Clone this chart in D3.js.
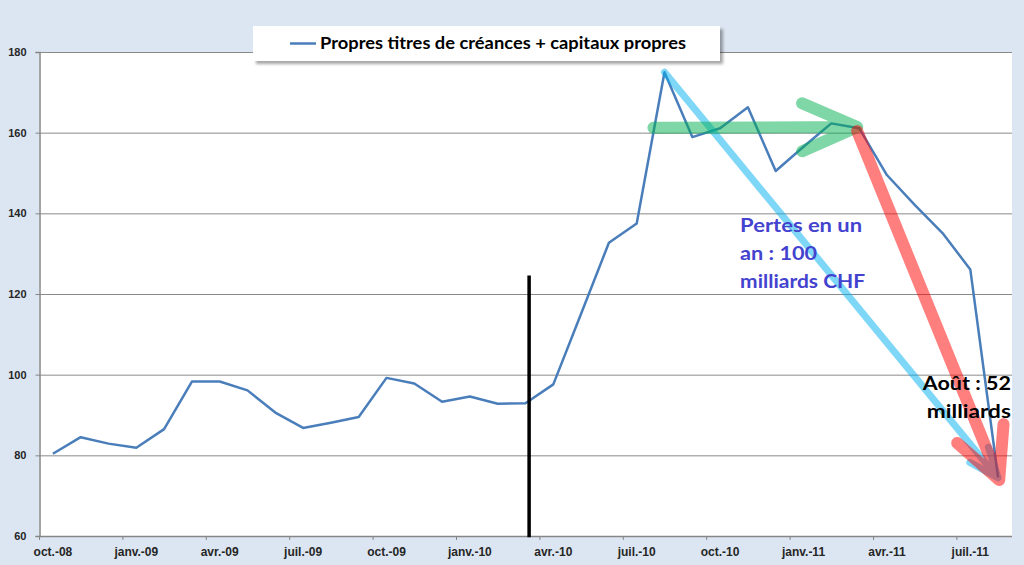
<!DOCTYPE html>
<html>
<head>
<meta charset="utf-8">
<script src="https://cdn.jsdelivr.net/npm/d3@7"></script>
<style>
  body { margin: 0; background: #dce6f2; }
  svg { display: block; }
</style>
</head>
<body>
<div id="chart"></div>
<script>
var months = ["oct.-08", "nov.-08", "déc.-08", "janv.-09", "févr.-09", "mars-09", "avr.-09",
  "mai-09", "juin-09", "juil.-09", "août-09", "sept.-09", "oct.-09", "nov.-09", "déc.-09",
  "janv.-10", "févr.-10", "mars-10", "avr.-10", "mai-10", "juin-10", "juil.-10", "août-10",
  "sept.-10", "oct.-10", "nov.-10", "déc.-10", "janv.-11", "févr.-11", "mars-11", "avr.-11",
  "mai-11", "juin-11", "juil.-11", "août-11"];

var values = [80.4, 84.5, 82.9, 81.9, 86.5, 98.3, 98.3,
  96.1, 90.6, 86.8, 88.1, 89.5, 99.2, 97.8, 93.3,
  94.6, 92.8, 92.9, 97.6, 115.1, 132.7, 137.5, 175.0,
  158.9, 161.1, 166.3, 150.5, 156.5, 162.3, 161.1, 149.5,
  142.1, 135.1, 126.1, 74.5];

var yTicks = [60, 80, 100, 120, 140, 160, 180];
var tickMonths = months.filter(function (d, i) { return i % 3 === 0; });
var seriesName = "Propres titres de créances + capitaux propres";

// annotations as [month index, value]
var lossArrow = [[22, 175.0], [34, 74.4]];
var flatArrow = [[21.6, 161.2], [28.93, 161.4]];
var dropArrow = [[28.93, 160.4], [34.04, 73.9]];
var cutMarker = [[17.13, 124.6], [17.13, 59.7]];
var lossNote = ["Pertes en un", "an : 100", "milliards CHF"];
var lossNoteAt = [24.72, 135.4];
var augNote = ["Août : 52", "milliards"];
var augNoteAt = [34.46, 96.2];

var margin = { top: 52, right: 12, bottom: 29, left: 39 },
    width = 1024 - margin.left - margin.right,
    height = 565 - margin.top - margin.bottom;

var x = d3.scaleBand()
    .domain(months)
    .range([0, width]);

var y = d3.scaleLinear()
    .domain([60, 180])
    .range([height, 0]);

// fractional month index -> px
var xi = function (i) {
  return (i + 0.5) * x.bandwidth();
};

var svg = d3.select("#chart").append("svg")
    .attr("width", 1024)
    .attr("height", 565);

var defs = svg.append("defs");
defs.append("filter")
    .attr("id", "shadow")
    .attr("x", "-5%").attr("y", "-20%")
    .attr("width", "115%").attr("height", "160%")
    .append("feDropShadow")
    .attr("dx", 3).attr("dy", 3)
    .attr("stdDeviation", 1.5)
    .attr("flood-color", "#000")
    .attr("flood-opacity", 0.35);

svg.append("rect")
    .attr("width", 1024)
    .attr("height", 565)
    .attr("fill", "#dce6f2");

var g = svg.append("g")
    .attr("transform", "translate(" + margin.left + "," + margin.top + ")");

g.append("rect")
    .attr("width", width)
    .attr("height", height)
    .attr("fill", "#fff");

// gridlines
g.append("g")
    .selectAll("line")
    .data(yTicks.slice(1))
    .enter()
    .append("line")
    .attr("x1", 0)
    .attr("x2", width)
    .attr("y1", function (d) { return y(d) + 0.5; })
    .attr("y2", function (d) { return y(d) + 0.5; })
    .attr("stroke", "#8a8a8a")
    .attr("stroke-width", 1);

// y axis
var yAxis = d3.axisLeft()
    .scale(y)
    .tickValues(yTicks)
    .tickSize(4)
    .tickPadding(9)
    .tickFormat(d3.format("d"));

var yG = g.append("g")
    .attr("transform", "translate(0.5,0)")
    .call(yAxis);
yG.select(".domain").attr("stroke", "#868686").attr("stroke-width", 1.5);
yG.selectAll(".tick line").attr("stroke", "#868686");
yG.selectAll(".tick text")
    .attr("fill", "#262626")
    .style("font-family", "'Liberation Sans', Arial, sans-serif")
    .style("font-weight", "bold")
    .style("font-size", "11px");

// x axis: ticks on band edges, labels in band centres
var xG = g.append("g").attr("class", "axis");
xG.append("line")
    .attr("x1", 0)
    .attr("x2", width)
    .attr("y1", height + 0.5)
    .attr("y2", height + 0.5)
    .attr("stroke", "#868686")
    .attr("stroke-width", 1.5);
xG.selectAll(".xtick")
    .data(tickMonths)
    .enter()
    .append("line")
    .attr("class", "xtick")
    .attr("x1", function (d) { return x(d) + 0.5; })
    .attr("x2", function (d) { return x(d) + 0.5; })
    .attr("y1", height)
    .attr("y2", height + 4)
    .attr("stroke", "#868686");
xG.selectAll(".xlabel")
    .data(tickMonths)
    .enter()
    .append("text")
    .attr("class", "xlabel")
    .attr("x", function (d) { return x(d) + x.bandwidth() / 2; })
    .attr("y", height + 20)
    .attr("text-anchor", "middle")
    .attr("fill", "#262626")
    .style("font-family", "'Liberation Sans', Arial, sans-serif")
    .style("font-weight", "bold")
    .style("font-size", "12px")
    .text(function (d) { return d; });

// data line
var line = d3.line()
    .x(function (d, i) { return x(months[i]) + x.bandwidth() / 2; })
    .y(function (d) { return y(d); });

g.append("path")
    .datum(values)
    .attr("d", line)
    .attr("fill", "none")
    .attr("stroke", "#4a7ebb")
    .attr("stroke-width", 2.5)
    .attr("stroke-linejoin", "round");

// vertical marker
g.append("line")
    .attr("x1", xi(cutMarker[0][0]))
    .attr("x2", xi(cutMarker[1][0]))
    .attr("y1", y(cutMarker[0][1]))
    .attr("y2", y(cutMarker[1][1]))
    .attr("stroke", "#000")
    .attr("stroke-width", 3.5);

// open arrow: shaft + two arms meeting at the tip
var arrowPath = function (pts, back, side) {
  var x0 = xi(pts[0][0]), y0 = y(pts[0][1]),
      x1 = xi(pts[1][0]), y1 = y(pts[1][1]);
  var len = Math.sqrt((x1 - x0) * (x1 - x0) + (y1 - y0) * (y1 - y0));
  var ux = (x1 - x0) / len, uy = (y1 - y0) / len;
  var ax = x1 - ux * back - uy * side, ay = y1 - uy * back + ux * side;
  var bx = x1 - ux * back + uy * side, by = y1 - uy * back - ux * side;
  return "M" + x0 + "," + y0 + "L" + x1 + "," + y1 +
    "M" + ax + "," + ay + "L" + x1 + "," + y1 + "L" + bx + "," + by;
};

var arrows = [
  { pts: lossArrow, color: "#00b0f0", w: 7, back: 30, side: 12 },
  { pts: flatArrow, color: "#00b050", w: 12, back: 55, side: 24 },
  { pts: dropArrow, color: "#ff0000", w: 12, back: 50, side: 25 }
];

g.selectAll(".arrow")
    .data(arrows)
    .enter()
    .append("path")
    .attr("class", "arrow")
    .attr("d", function (d) { return arrowPath(d.pts, d.back, d.side); })
    .attr("fill", "none")
    .attr("stroke", function (d) { return d.color; })
    .attr("stroke-opacity", 0.5)
    .attr("stroke-width", function (d) { return d.w; })
    .attr("stroke-linecap", "round")
    .attr("stroke-linejoin", "round");

// notes
var noteFont = "Lato, 'Open Sans', sans-serif";
var lossWidths = [122, 77, 125];
g.selectAll(".loss")
    .data(lossNote)
    .enter()
    .append("text")
    .attr("class", "loss")
    .attr("x", xi(lossNoteAt[0]))
    .attr("y", function (d, i) { return y(lossNoteAt[1]) + i * 28; })
    .attr("textLength", function (d, i) { return lossWidths[i]; })
    .attr("lengthAdjust", "spacingAndGlyphs")
    .attr("fill", "#4343cf")
    .style("font-family", noteFont)
    .style("font-weight", "bold")
    .style("font-size", "18px")
    .text(function (d) { return d; });

var augWidths = [88, 84];
g.selectAll(".aug")
    .data(augNote)
    .enter()
    .append("text")
    .attr("class", "aug")
    .attr("x", xi(augNoteAt[0]))
    .attr("y", function (d, i) { return y(augNoteAt[1]) + i * 28; })
    .attr("text-anchor", "end")
    .attr("textLength", function (d, i) { return augWidths[i]; })
    .attr("lengthAdjust", "spacingAndGlyphs")
    .attr("fill", "#000")
    .style("font-family", noteFont)
    .style("font-weight", "bold")
    .style("font-size", "18px")
    .text(function (d) { return d; });

// legend
var legend = g.append("g")
    .attr("transform", "translate(214,-26)");
legend.append("rect")
    .attr("width", 467)
    .attr("height", 35)
    .attr("fill", "#fff")
    .attr("filter", "url(#shadow)");
legend.append("line")
    .attr("x1", 37)
    .attr("x2", 63)
    .attr("y1", 17.5)
    .attr("y2", 17.5)
    .attr("stroke", "#4a7ebb")
    .attr("stroke-width", 2.5);
legend.append("text")
    .attr("x", 67)
    .attr("y", 23)
    .attr("textLength", 366)
    .attr("lengthAdjust", "spacingAndGlyphs")
    .attr("fill", "#000")
    .style("font-family", noteFont)
    .style("font-weight", "bold")
    .style("font-size", "17px")
    .text(seriesName);
</script>
</body>
</html>
